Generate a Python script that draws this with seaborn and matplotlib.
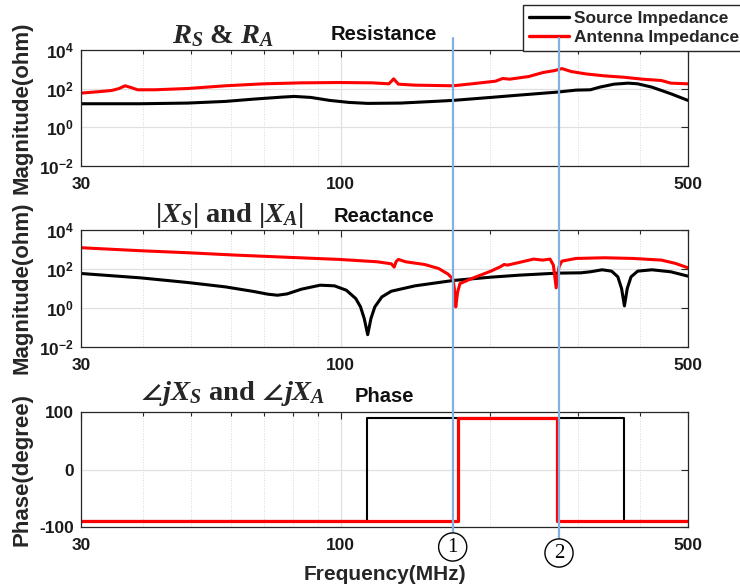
import numpy as np
import pandas as pd
import matplotlib
matplotlib.use("Agg")
import matplotlib.pyplot as plt
import seaborn as sns
from matplotlib.ticker import FixedLocator, FixedFormatter, NullFormatter, NullLocator
from matplotlib.transforms import blended_transform_factory
from matplotlib.lines import Line2D

# ---------------- data ----------------
# Resistance, source (black)
rs_freq = [30, 39.5, 49.2, 58.6, 66.9, 76.3, 80.6, 87.0, 95.0, 103.7, 113.3, 132.1, 154.0,
           168.2, 200.5, 228.7, 272.6, 297.6, 317.9, 332.2, 354.8, 379.0, 396.0, 423.0, 461.8, 500]
rs_vals = [16.6, 16.6, 18.0, 21.9, 28.9, 36.7, 39.7, 35.3, 24.7, 19.5, 17.3, 18.0, 21.9,
           24.7, 35.3, 46.5, 66.3, 84.1, 87.5, 120, 171, 193, 178, 120, 54.5, 24.7]
# Resistance, antenna (red)
ra_freq = [30, 32.4, 34.6, 35.8, 36.8, 37.8, 39.0, 42.2, 49.2, 58.6, 69.9, 83.3, 99.3, 115.8,
           125.0, 127.8, 130.6, 141.1, 168.2, 183.6, 204.9, 211.8, 218.9, 239.0, 255.2, 269.6,
           278.7, 291.2, 311.0, 339.6, 370.7, 404.8, 442.0, 461.8, 500]
ra_vals = [58.9, 69.0, 80.7, 102, 141, 115, 87.5, 87.5, 102, 141, 178, 200, 208, 200,
           178, 322, 171, 152, 141, 178, 244, 335, 310, 425, 682, 865,
           1095, 768, 582, 459, 392, 310, 264, 193, 178]
# Reactance magnitude, source (black)
xs_freq = [30, 39.5, 49.2, 58.6, 66.9, 71.4, 74.6, 78.0, 83.3, 90.9, 97.1, 102.6, 107.2, 109.6,
           111.5, 113.3, 115.0, 117.1, 121.0, 126.4, 141.1, 168.2, 200.5, 228.7, 272.6, 304.3,
           317.9, 335.9, 350.9, 361.2, 367.5, 372.4, 377.3, 384.0, 396.0, 423.0, 461.8, 500]
xs_vals = [58.9, 35.2, 20.3, 12.1, 6.98, 5.09, 4.52, 5.29, 9.20, 14.8, 13.7, 8.18, 3.05, 1.14,
           0.285, 0.0428, 0.285, 1.14, 3.71, 7.26, 13.7, 25.7, 38.1, 48.3, 61.3, 63.7,
           71.8, 91.0, 77.6, 39.7, 9.95, 1.28, 9.95, 39.7, 77.6, 91.0, 71.8, 43.0]
# Reactance magnitude, antenna (red)
xa_freq = [30, 39.5, 49.2, 61.2, 76.3, 99.3, 118.3, 126.4, 128.1, 129.2, 130.6, 135.0, 147.4,
           157.4, 164.5, 168.2, 169.3, 170.4, 171.9, 173.8, 183.6, 200.5, 209.5, 213.2, 216.5,
           228.7, 244.3, 255.2, 263.8, 267.9, 271.4, 275.0, 278.7, 297.6, 339.6, 387.4, 442.0,
           471.9, 500]
xa_vals = [1233, 865, 682, 518, 409, 310, 235, 185, 125, 235, 310, 235, 171,
           106, 54.5, 30.1, 10.0, 1.13, 6.7, 18.0, 32.6, 77.6, 130, 171, 158,
           217, 322, 286, 322, 158, 10.8, 130, 254, 348, 377, 348, 286,
           193, 115]
# Phase
ps_freq = [30, 113, 113, 372, 372, 500]
ps_vals = [-90, -90, 90, 90, -90, -90]
pa_freq = [30, 172, 172, 273, 273, 500]
pa_vals = [-90, -90, 90, 90, -90, -90]
# marker frequencies (vertical blue lines)
marker_freqs = [168, 275]
marker_labels = ["1", "2"]

series_labels = ["Source Impedance", "Antenna Impedance"]
x_ticks = [30, 100, 500]
x_ticklabels = ["30", "100", "500"]
x_minor = [40, 50, 60, 70, 80, 90, 200, 300, 400]
mag_ticks = [1e-2, 1e0, 1e2, 1e4]
mag_ticklabels = [r"$\mathbf{10^{-2}}$", r"$\mathbf{10^{0}}$", r"$\mathbf{10^{2}}$", r"$\mathbf{10^{4}}$"]
ph_ticks = [-100, 0, 100]
ph_ticklabels = ["-100", "0", "100"]

# ---------------- style ----------------
sns.set_style("white")
plt.rcParams.update({
    "font.family": ["Liberation Sans", "DejaVu Sans"],
    "font.weight": "bold",
    "mathtext.fontset": "custom",
    "mathtext.it": "Liberation Serif:italic:bold",
    "mathtext.rm": "Liberation Serif:bold",
    "mathtext.bf": "Liberation Sans:bold",
    "mathtext.fallback": "stix",
})

W, H = 740, 588
fig = plt.figure(figsize=(W / 100, H / 100), dpi=100)
L = 81 / W
AW = 607 / W
ax1 = fig.add_axes([L, 1 - 166 / H, AW, 116 / H])
ax2 = fig.add_axes([L, 1 - 347 / H, AW, 117 / H])
ax3 = fig.add_axes([L, 1 - 527 / H, AW, 115 / H])

spine_c = "#262626"


def style(ax, mag):
    ax.set_xscale("log")
    if mag:
        ax.set_yscale("log")
        ax.set_ylim(1e-2, 1e4)
        ax.yaxis.set_major_locator(FixedLocator(mag_ticks))
        ax.yaxis.set_major_formatter(FixedFormatter(mag_ticklabels))
    else:
        ax.set_ylim(-100, 100)
        ax.yaxis.set_major_locator(FixedLocator(ph_ticks))
        ax.yaxis.set_major_formatter(FixedFormatter(ph_ticklabels))
    ax.yaxis.set_minor_locator(NullLocator())
    ax.set_xlim(30, 500)
    ax.xaxis.set_major_locator(FixedLocator(x_ticks))
    ax.xaxis.set_major_formatter(FixedFormatter(x_ticklabels))
    ax.xaxis.set_minor_locator(FixedLocator(x_minor))
    ax.xaxis.set_minor_formatter(NullFormatter())
    ax.tick_params(which="both", direction="in", top=True, right=True,
                   color=spine_c, width=0.8, labelsize=12.5, labelcolor="#1a1a1a")
    ax.tick_params(which="major", length=5)
    ax.tick_params(which="minor", length=3)
    ax.tick_params(axis="x", pad=8)
    ax.tick_params(axis="y", pad=5)
    ax.grid(True, which="major", color="#e0e0e0", lw=0.9, ls="-")
    ax.grid(True, which="minor", axis="x", color="#d8d8d8", lw=0.7, ls=":")
    ax.set_axisbelow(True)
    for s in ax.spines.values():
        s.set_color(spine_c)
        s.set_linewidth(0.9)
    ax.set_xlabel("")
    ax.set_ylabel("")


for a, m in [(ax1, True), (ax2, True), (ax3, False)]:
    style(a, m)

sns.lineplot(x=rs_freq, y=rs_vals, ax=ax1, color="black", linewidth=2.2, estimator=None, sort=False)
sns.lineplot(x=ra_freq, y=ra_vals, ax=ax1, color="red", linewidth=2.2, estimator=None, sort=False)
sns.lineplot(x=xs_freq, y=xs_vals, ax=ax2, color="black", linewidth=2.2, estimator=None, sort=False)
sns.lineplot(x=xa_freq, y=xa_vals, ax=ax2, color="red", linewidth=2.2, estimator=None, sort=False)
sns.lineplot(x=ps_freq, y=ps_vals, ax=ax3, color="black", linewidth=1.5, estimator=None, sort=False)
sns.lineplot(x=pa_freq, y=pa_vals, ax=ax3, color="red", linewidth=2.3, estimator=None, sort=False)

for a, m in [(ax1, True), (ax2, True), (ax3, False)]:
    style(a, m)

# ---------------- titles ----------------
def ft(x, y, s, **kw):
    fig.text(x / W, 1 - y / H, s, ha="center", va="center", **kw)

ft(223, 36, r"$R_S$ & $R_A$", fontsize=20.5, family="Liberation Serif", weight="bold")
ft(384, 35, "Resistance", fontsize=14.5, color="#111111")
ft(229, 215, r"$|X_S|$ and $|X_A|$", fontsize=20.5, family="Liberation Serif", weight="bold")
ft(384, 216, "Reactance", fontsize=14.5, color="#111111")
ft(233, 393, r"$\angle jX_S$ and $\angle jX_A$", fontsize=20.5, family="Liberation Serif", weight="bold")
ft(384, 397, "Phase", fontsize=14.5, color="#111111")

# axis labels
ft(22, 108, "Magnitude(ohm)", fontsize=16, rotation=90, color="#262626")
ft(22, 288, "Magnitude(ohm)", fontsize=16, rotation=90, color="#262626")
ft(22, 470, "Phase(degree)", fontsize=16, rotation=90, color="#262626")
ft(384.5, 575, "Frequency(MHz)", fontsize=15, color="#262626")

# ---------------- legend ----------------
handles = [Line2D([], [], color="black", lw=2.4), Line2D([], [], color="red", lw=2.4)]
leg = fig.legend(handles, series_labels, loc="upper left", bbox_to_anchor=(523 / W, 1 - 5 / H),
                 frameon=True, fancybox=False, framealpha=1, borderaxespad=0,
                 prop={"size": 12.5, "weight": "bold"}, handlelength=2.3, handletextpad=0.3,
                 labelspacing=0.2, borderpad=0.35)
leg.get_frame().set_edgecolor(spine_c)
leg.get_frame().set_linewidth(1.0)

# ---------------- marker lines ----------------
trans = blended_transform_factory(ax3.transData, fig.transFigure)
bottoms = [533, 539]
centers = [547, 553]
for f, lab, b, c in zip(marker_freqs, marker_labels, bottoms, centers):
    fig.add_artist(Line2D([f, f], [1 - 38 / H, 1 - b / H], transform=trans,
                          color="#80b1e2", lw=1.6, zorder=10))
    fig.text(f, 1 - c / H, lab, transform=trans, ha="center", va="center",
             fontsize=15, family="Liberation Serif", weight="normal", color="black",
             bbox=dict(boxstyle="circle,pad=0.22", fc="white", ec="black", lw=1.0), zorder=11)

fig.savefig("out.png", dpi=100)
